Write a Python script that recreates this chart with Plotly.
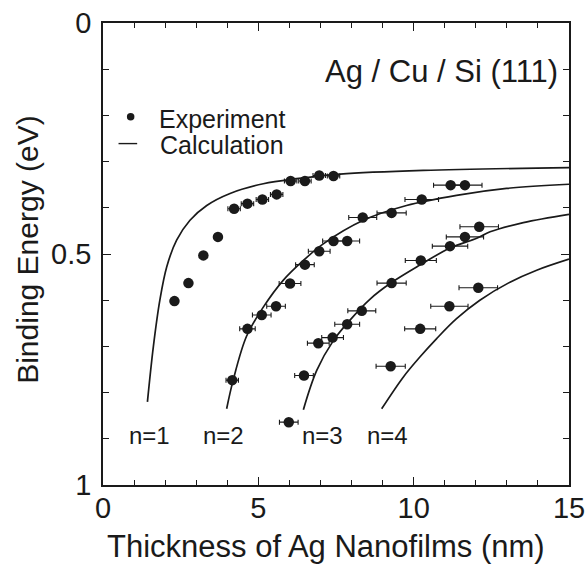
import plotly.graph_objects as go

# Experimental data (thickness nm, binding energy eV, x error nm)
exp1_x = [2.30, 2.75, 3.23, 3.70, 4.22, 4.65, 5.13, 5.59, 6.04, 6.50, 6.96, 7.42]
exp1_y = [0.602, 0.563, 0.503, 0.463, 0.402, 0.391, 0.382, 0.371, 0.342, 0.342, 0.330, 0.331]
exp1_err = [0, 0, 0, 0, 0.2, 0.2, 0.2, 0.2, 0.2, 0.2, 0.2, 0.2]

exp2_x = [4.16, 4.65, 5.11, 5.57, 6.02, 6.50, 6.96, 7.42, 7.86, 8.36, 9.29, 10.26, 11.19, 11.65]
exp2_y = [0.773, 0.662, 0.632, 0.613, 0.564, 0.523, 0.494, 0.472, 0.472, 0.421, 0.411, 0.382, 0.351, 0.351]
exp2_err = [0.2, 0.25, 0.3, 0.3, 0.35, 0.3, 0.35, 0.35, 0.4, 0.45, 0.47, 0.54, 0.55, 0.55]

exp3_x = [5.98, 6.47, 6.93, 7.39, 7.86, 8.33, 9.29, 10.23, 11.17, 11.65, 12.11]
exp3_y = [0.864, 0.763, 0.693, 0.681, 0.652, 0.623, 0.563, 0.514, 0.483, 0.463, 0.441]
exp3_err = [0.3, 0.3, 0.35, 0.35, 0.4, 0.45, 0.47, 0.5, 0.57, 0.6, 0.62]

exp4_x = [9.26, 10.21, 11.15, 12.08]
exp4_y = [0.743, 0.662, 0.613, 0.573]
exp4_err = [0.47, 0.5, 0.6, 0.62]

# Calculated curves
calc1_x = [1.43, 1.62, 1.83, 2.05, 2.37, 2.80, 3.34, 4.09, 5.16, 6.23, 7.63, 10.31, 15.0]
calc1_y = [0.820, 0.701, 0.600, 0.528, 0.470, 0.427, 0.395, 0.369, 0.348, 0.337, 0.327, 0.319, 0.313]

calc2_x = [3.98, 4.19, 4.62, 5.16, 5.80, 6.45, 7.09, 8.38, 9.77, 11.38, 12.99, 15.0]
calc2_y = [0.835, 0.773, 0.678, 0.615, 0.557, 0.514, 0.478, 0.427, 0.395, 0.373, 0.358, 0.349]

calc3_x = [6.45, 6.88, 7.42, 7.95, 8.59, 9.24, 10.20, 11.17, 12.03, 12.46, 13.53, 15.0]
calc3_y = [0.837, 0.752, 0.687, 0.643, 0.598, 0.564, 0.524, 0.487, 0.466, 0.452, 0.432, 0.414]

calc4_x = [8.97, 9.67, 10.20, 10.74, 11.38, 12.13, 13.10, 13.96, 15.0]
calc4_y = [0.835, 0.766, 0.723, 0.683, 0.640, 0.600, 0.561, 0.535, 0.511]

label_text = ["n=1", "n=2", "n=3", "n=4"]
label_x = [1.51, 3.87, 7.08, 9.17]
label_y = [0.892, 0.892, 0.892, 0.892]

x_ticks = [0, 5, 10, 15]
y_ticks = [0, 0.5, 1]
y_ticktext = ["0", "0.5", "1"]

INK = "#1a1a1a"
FONT = "Liberation Sans, Arial, sans-serif"

fig = go.Figure()

for cx, cy in [(calc1_x, calc1_y), (calc2_x, calc2_y), (calc3_x, calc3_y), (calc4_x, calc4_y)]:
    fig.add_trace(go.Scatter(x=cx, y=cy, mode="lines",
                             line=dict(color=INK, width=1.7, shape="spline", smoothing=1.0),
                             name="Calculation", showlegend=False, hoverinfo="skip"))

for ex, ey, ee in [(exp1_x, exp1_y, exp1_err), (exp2_x, exp2_y, exp2_err),
                   (exp3_x, exp3_y, exp3_err), (exp4_x, exp4_y, exp4_err)]:
    fig.add_trace(go.Scatter(x=ex, y=ey, mode="markers",
                             marker=dict(color=INK, size=10.5, line=dict(width=0)),
                             error_x=dict(type="data", array=ee, visible=True, color=INK, thickness=1.1, width=2.5),
                             name="Experiment", showlegend=False))

# legend (drawn manually)
fig.add_trace(go.Scatter(x=[0.89], y=[0.203], mode="markers", marker=dict(color=INK, size=7.5),
                         showlegend=False, hoverinfo="skip"))
fig.add_trace(go.Scatter(x=[0.5, 1.1], y=[0.261, 0.261], mode="lines", line=dict(color=INK, width=1.4),
                         showlegend=False, hoverinfo="skip"))
fig.add_annotation(x=1.74, y=0.207, text="Experiment", showarrow=False, xanchor="left", yanchor="middle",
                   font=dict(size=25, color=INK, family=FONT))
fig.add_annotation(x=1.76, y=0.265, text="Calculation", showarrow=False, xanchor="left", yanchor="middle",
                   font=dict(size=25, color=INK, family=FONT))

fig.add_annotation(x=14.72, y=0.104, text="Ag / Cu / Si (111)", showarrow=False, xanchor="right", yanchor="middle",
                   font=dict(size=31, color=INK, family=FONT))

for t, lx, ly in zip(label_text, label_x, label_y):
    fig.add_annotation(x=lx, y=ly, text=t, showarrow=False, xanchor="center", yanchor="middle",
                       font=dict(size=24, color=INK, family=FONT))

# axis titles
fig.add_annotation(xref="paper", yref="paper", x=0.479, y=-0.134, text="Thickness of Ag Nanofilms (nm)",
                   showarrow=False, xanchor="center", yanchor="middle",
                   font=dict(size=31, color=INK, family=FONT))
fig.add_annotation(xref="paper", yref="paper", x=-0.161, y=0.509, text="Binding Energy (eV)", textangle=-90,
                   showarrow=False, xanchor="center", yanchor="middle",
                   font=dict(size=30, color=INK, family=FONT))

axis_common = dict(showline=True, linecolor=INK, linewidth=1.5, mirror="ticks", ticks="inside",
                   tickcolor=INK, tickwidth=1.3, ticklen=8, showgrid=False, zeroline=False, automargin=False,
                   ticklabeloverflow="allow", tickfont=dict(size=29, color=INK, family=FONT))

fig.update_xaxes(range=[0, 15], tickvals=x_ticks, ticktext=[str(v) for v in x_ticks], ticklabelstandoff=-4,
                 minor=dict(dtick=1, ticks="inside", ticklen=5, tickcolor=INK, tickwidth=1.2, showgrid=False),
                 **axis_common)
fig.update_yaxes(range=[1, 0], tickvals=y_ticks, ticktext=y_ticktext, ticklabelstandoff=4,
                 minor=dict(dtick=0.1, ticks="inside", ticklen=6, tickcolor=INK, tickwidth=1.2, showgrid=False),
                 **axis_common)

fig.update_layout(width=585, height=565, margin=dict(l=103, r=16, t=23, b=80),
                  plot_bgcolor="white", paper_bgcolor="white", showlegend=False)

fig.write_html("out.html", config={"displayModeBar": False},
               post_script="document.body.style.margin='0';document.body.style.padding='0';")
